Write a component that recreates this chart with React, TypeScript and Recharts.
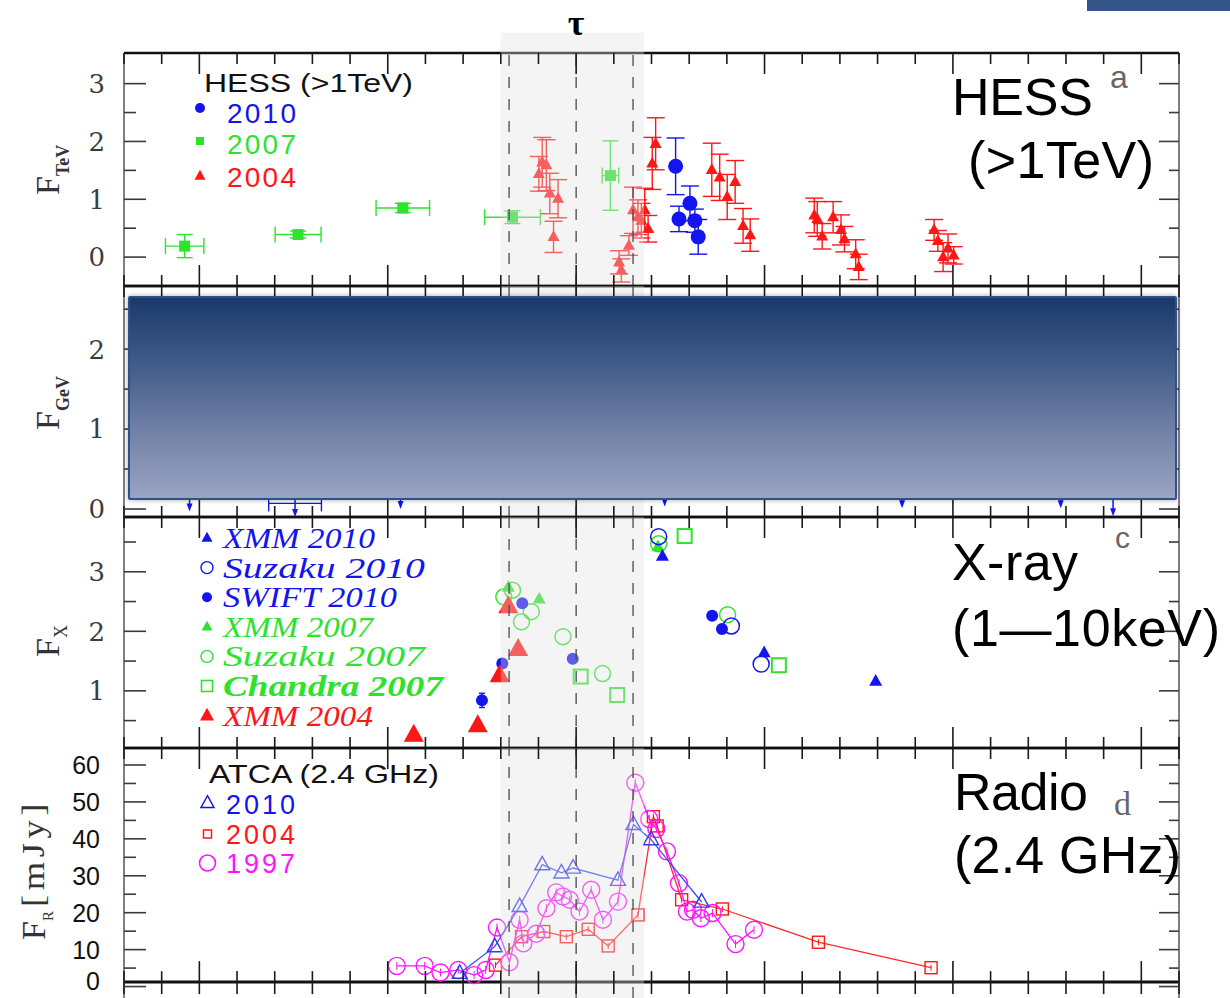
import React from 'react';
import {
  ScatterChart,
  Scatter,
  XAxis,
  YAxis,
  ReferenceLine,
  ReferenceArea,
  ErrorBar,
  Legend,
} from 'recharts';

const W = 1230;
const ML = 124;
const MR = 51;
const PLOT_R = W - MR;

const SANS = "'Liberation Sans', Arial, sans-serif";
const SERIF = "'Liberation Serif', 'Times New Roman', serif";
const DJS = "'DejaVu Serif', serif";

const BLUE = '#1414ee';
const GREEN = '#2ee22e';
const RED = '#ff1616';
const MAGENTA = '#ff14ff';

// shared time axis (no labels in the original)
const xTicks = [0, 1, 2, 3, 4, 5, 6, 7, 8, 9, 10, 11, 12, 13, 14, 15, 16, 17, 18, 19, 20, 21, 22, 23, 24, 25, 26, 27, 28];
const tevTicks = [0, 0.5, 1, 1.5, 2, 2.5, 3];
const gevTicks = [0, 0.5, 1, 1.5, 2, 2.5];
const xrayTicks = [0.5, 1, 1.5, 2, 2.5, 3, 3.5];
const radioTicks = [0, 5, 10, 15, 20, 25, 30, 35, 40, 45, 50, 55, 60];

// shaded window around periastron, and its dashed markers
const windowStart = 10.0;
const windowEnd = 13.8;
const windowLines = [10.22, 12.0, 13.51];

// a: HESS (>1 TeV)
const hess2007 = [
  { x: 1.61, y: 0.19, ex: 0.51, ey: 0.2 },
  { x: 4.62, y: 0.39, ex: 0.61, ey: 0.06 },
  { x: 7.4, y: 0.85, ex: 0.71, ey: 0.08 },
  { x: 10.31, y: 0.69, ex: 0.74, ey: 0.11 },
  { x: 12.91, y: 1.41, ex: 0.22, ey: 0.6 },
];
const hess2004 = [
  { x: 11.01, y: 1.44, ey: 0.3 },
  { x: 11.1, y: 1.64, ey: 0.43 },
  { x: 11.21, y: 1.59, ey: 0.44 },
  { x: 11.3, y: 1.1, ey: 0.35 },
  { x: 11.4, y: 0.35, ey: 0.27 },
  { x: 11.52, y: 1.01, ey: 0.33 },
  { x: 13.14, y: -0.09, ey: 0.2 },
  { x: 13.2, y: -0.23, ey: 0.2 },
  { x: 13.4, y: 0.2, ey: 0.17 },
  { x: 13.51, y: 0.81, ey: 0.4 },
  { x: 13.64, y: 0.69, ey: 0.3 },
  { x: 13.73, y: 0.63, ey: 0.3 },
  { x: 13.82, y: 0.81, ey: 0.38 },
  { x: 13.91, y: 0.49, ey: 0.23 },
  { x: 14.02, y: 1.62, ey: 0.45 },
  { x: 14.11, y: 1.96, ey: 0.45 },
  { x: 15.6, y: 1.51, ey: 0.46 },
  { x: 15.81, y: 1.38, ey: 0.4 },
  { x: 16.01, y: 1.04, ey: 0.39 },
  { x: 16.22, y: 1.3, ey: 0.37 },
  { x: 16.43, y: 0.54, ey: 0.3 },
  { x: 16.62, y: 0.38, ey: 0.28 },
  { x: 18.32, y: 0.72, ey: 0.3 },
  { x: 18.4, y: 0.66, ey: 0.3 },
  { x: 18.53, y: 0.36, ey: 0.22 },
  { x: 18.82, y: 0.69, ey: 0.27 },
  { x: 19.03, y: 0.47, ey: 0.26 },
  { x: 19.12, y: 0.31, ey: 0.22 },
  { x: 19.42, y: 0.05, ey: 0.25 },
  { x: 19.5, y: -0.17, ey: 0.22 },
  { x: 21.5, y: 0.47, ey: 0.18 },
  { x: 21.6, y: 0.28, ey: 0.18 },
  { x: 21.74, y: 0.0, ey: 0.25 },
  { x: 21.87, y: 0.15, ey: 0.25 },
  { x: 22.02, y: 0.03, ey: 0.15 },
];
const hess2010 = [
  { x: 14.64, y: 1.57, ey: 0.49 },
  { x: 14.73, y: 0.66, ey: 0.22 },
  { x: 15.02, y: 0.93, ey: 0.3 },
  { x: 15.15, y: 0.63, ey: 0.2 },
  { x: 15.24, y: 0.35, ey: 0.3 },
];

// b: Fermi GeV upper limits (mostly hidden)
const gevLimits = [
  { x: 1.74, y: -0.03 },
  { x: 4.54, y: -0.1 },
  { x: 7.34, y: 0.0 },
  { x: 14.35, y: 0.03 },
  { x: 20.65, y: 0.01 },
  { x: 24.86, y: 0.01 },
  { x: 26.25, y: -0.09 },
];
const gevBar = [{ x: 4.54, y: 0.07, ex: 0.7 }];

// c: X-ray (1-10 keV)
const xmm2010 = [
  { x: 14.29, y: 3.26 },
  { x: 16.99, y: 1.64 },
  { x: 19.95, y: 1.16 },
];
const suzaku2010 = [
  { x: 14.19, y: 3.59 },
  { x: 16.12, y: 2.09 },
  { x: 16.91, y: 1.45 },
];
const swift2010 = [
  { x: 9.5, y: 0.84, ey: 0.12 },
  { x: 10.04, y: 1.46, ey: 0 },
  { x: 10.57, y: 2.47, ey: 0 },
  { x: 11.91, y: 1.54, ey: 0 },
  { x: 15.61, y: 2.26, ey: 0 },
  { x: 15.87, y: 2.04, ey: 0 },
];
const xmm2007 = [
  { x: 10.2, y: 2.74 },
  { x: 11.02, y: 2.54 },
  { x: 14.17, y: 3.42 },
];
const suzaku2007 = [
  { x: 10.08, y: 2.58 },
  { x: 10.31, y: 2.69 },
  { x: 10.55, y: 2.16 },
  { x: 10.81, y: 2.33 },
  { x: 11.65, y: 1.91 },
  { x: 12.7, y: 1.29 },
  { x: 14.19, y: 3.47 },
  { x: 16.02, y: 2.28 },
];
const chandra2007 = [
  { x: 12.12, y: 1.24 },
  { x: 13.09, y: 0.93 },
  { x: 14.88, y: 3.6 },
  { x: 17.38, y: 1.43 },
];
const xmm2004 = [
  { x: 7.69, y: 0.26 },
  { x: 9.39, y: 0.42 },
  { x: 9.97, y: 1.26 },
  { x: 10.2, y: 2.42 },
  { x: 10.46, y: 1.7 },
];

// d: ATCA radio 2.4 GHz, mJy
const atca2010 = [
  { x: 8.91, y: 3.6 },
  { x: 9.84, y: 10.8 },
  { x: 10.5, y: 21.7 },
  { x: 11.1, y: 33.0 },
  { x: 11.61, y: 30.8 },
  { x: 11.92, y: 32.1 },
  { x: 13.11, y: 28.8 },
  { x: 13.52, y: 43.9 },
  { x: 13.99, y: 39.8 },
  { x: 15.33, y: 22.9 },
];
const atca2004 = [
  { x: 9.86, y: 5.8 },
  { x: 10.55, y: 13.5 },
  { x: 11.14, y: 14.9 },
  { x: 11.74, y: 13.5 },
  { x: 12.32, y: 15.5 },
  { x: 12.85, y: 11.0 },
  { x: 13.64, y: 19.4 },
  { x: 14.05, y: 46.0 },
  { x: 14.15, y: 43.5 },
  { x: 14.8, y: 23.5 },
  { x: 15.88, y: 21.0 },
  { x: 18.43, y: 12.0 },
  { x: 21.42, y: 5.1 },
];
const atca1997 = [
  { x: 7.24, y: 5.6 },
  { x: 7.98, y: 5.6 },
  { x: 8.4, y: 3.8 },
  { x: 8.87, y: 4.5 },
  { x: 9.29, y: 3.1 },
  { x: 9.6, y: 4.5 },
  { x: 9.9, y: 16.0 },
  { x: 10.23, y: 6.6 },
  { x: 10.5, y: 18.1 },
  { x: 10.6, y: 11.7 },
  { x: 10.94, y: 14.3 },
  { x: 11.21, y: 21.2 },
  { x: 11.47, y: 25.5 },
  { x: 11.65, y: 24.4 },
  { x: 11.83, y: 23.5 },
  { x: 12.09, y: 20.3 },
  { x: 12.4, y: 26.2 },
  { x: 12.71, y: 18.1 },
  { x: 13.11, y: 23.0 },
  { x: 13.57, y: 55.2 },
  { x: 13.94, y: 45.4 },
  { x: 14.13, y: 42.7 },
  { x: 14.41, y: 36.6 },
  { x: 14.73, y: 28.0 },
  { x: 14.94, y: 20.3 },
  { x: 15.1, y: 20.8 },
  { x: 15.31, y: 18.5 },
  { x: 15.62, y: 19.9 },
  { x: 16.23, y: 11.5 },
  { x: 16.72, y: 15.4 },
];

// ---- marker shapes ----
const dot = (r: number, color: string) => (s: any) => (
  <circle cx={s.cx} cy={s.cy} r={r} fill={color} />
);
const ring = (r: number, color: string, w = 1.5, tick = false) => (s: any) => (
  <g>
    <circle cx={s.cx} cy={s.cy} r={r} fill="none" stroke={color} strokeWidth={w} />
    {tick && <line x1={s.cx} x2={s.cx} y1={s.cy - 4} y2={s.cy + 4} stroke={color} strokeWidth={1} />}
  </g>
);
const box = (a: number, color: string, filled: boolean, w = 1.5, tick = false) => (s: any) => (
  <g>
    <rect
      x={s.cx - a / 2}
      y={s.cy - a / 2}
      width={a}
      height={a}
      fill={filled ? color : 'none'}
      stroke={filled ? 'none' : color}
      strokeWidth={w}
    />
    {tick && <line x1={s.cx} x2={s.cx} y1={s.cy - 3} y2={s.cy + 3} stroke={color} strokeWidth={1} />}
  </g>
);
const tri = (a: number, color: string, filled: boolean, w = 1.5) => (s: any) => {
  const h = a * 0.9;
  return (
    <polygon
      points={`${s.cx},${s.cy - h * 0.62} ${s.cx - a / 2},${s.cy + h * 0.38} ${s.cx + a / 2},${s.cy + h * 0.38}`}
      fill={filled ? color : 'none'}
      stroke={filled ? 'none' : color}
      strokeWidth={w}
    />
  );
};
const limitArrow = (color: string) => (s: any) => (
  <g stroke={color} fill={color} strokeWidth={1.5}>
    <line x1={s.cx} x2={s.cx} y1={s.cy - 45} y2={s.cy - 6} />
    <polygon points={`${s.cx - 3},${s.cy - 8} ${s.cx + 3},${s.cy - 8} ${s.cx},${s.cy}`} stroke="none" />
  </g>
);
const nothing = () => <g />;

// ---- axis ticks (inward, all four sides) ----
const xTick = (top: number, bottom: number, below: number) => (p: any) => {
  const long = p.payload.value % 5 === 2;
  const len = long ? 21 : 11;
  return (
    <g stroke="#1a1a1a" strokeWidth={1.6}>
      <line x1={p.x} x2={p.x} y1={top} y2={top + len} />
      <line x1={p.x} x2={p.x} y1={bottom + below} y2={bottom - len} />
    </g>
  );
};
const yTick = (isMajor: (v: number) => boolean, font: any, labelX: number, lowDy = '0.36em') => (p: any) => {
  const v = p.payload.value;
  const major = isMajor(v);
  return (
    <g>
      <line x1={ML} x2={ML + (major ? 22 : 12)} y1={p.y} y2={p.y} stroke="#3a3a3a" strokeWidth={1.6} />
      <line x1={PLOT_R} x2={PLOT_R - (major ? 20 : 10)} y1={p.y} y2={p.y} stroke="#3a3a3a" strokeWidth={1.6} />
      {major && (
        <text x={labelX} y={p.y} dy={v === 0 ? lowDy : '0.36em'} textAnchor="end" {...font}>
          {v}
        </text>
      )}
    </g>
  );
};

const serifTickFont = { fontFamily: DJS, fontSize: 26, fill: '#3c3c3c' };
const sansTickFont = { fontFamily: SANS, fontSize: 25, fill: '#111' };

// axes get 1px of room (an axis with zero size is not drawn); margins compensate
function Panel(p: any) {
  const plotBottom = p.height - p.mb;
  const base = p.tickBase ?? plotBottom;
  return (
    <div style={{ position: 'absolute', left: 0, top: p.top }}>
      <ScatterChart width={W} height={p.height} margin={{ top: p.mt, right: MR, bottom: p.mb - 1, left: ML - 1 }}>
        <XAxis
          type="number"
          dataKey="x"
          domain={[0, 28]}
          ticks={xTicks}
          interval={0}
          height={1}
          allowDataOverflow
          tickLine={false}
          axisLine={p.hideAxisLine ? false : { stroke: '#111', strokeWidth: 2.6 }}
          tick={xTick(p.mt, base, p.tickBelow ?? 0)}
        />
        <YAxis
          type="number"
          dataKey="y"
          domain={p.domain}
          ticks={p.yTicks}
          interval={0}
          width={1}
          allowDataOverflow
          tickLine={false}
          axisLine={{ stroke: '#555', strokeWidth: 1.5 }}
          tick={yTick(p.isMajor, p.tickFont, p.labelX, p.lowDy)}
        />
        {p.children}
        <ReferenceArea
          x1={windowStart}
          x2={windowEnd}
          y1={p.areaTop !== undefined ? p.domain[0] : undefined}
          y2={p.areaTop}
          ifOverflow={p.areaTop !== undefined ? 'visible' : 'discard'}
          fill="#e0e0e0"
          fillOpacity={0.36}
          stroke="none"
          zIndex={650}
        />
        {windowLines.map((x) => (
          <ReferenceLine
            key={x}
            x={x}
            stroke="#4a4a4a"
            strokeWidth={1.3}
            strokeDasharray="11 11"
            zIndex={700}
            label={
              p.tau && x === 12
                ? { value: 'τ', position: 'top', offset: 18, fill: '#000', fontSize: 36, fontWeight: 700, fontFamily: SERIF }
                : undefined
            }
          />
        ))}
        <ReferenceLine x={28} stroke="#555" strokeWidth={1.5} />
        <ReferenceLine y={p.domain[1]} stroke="#111" strokeWidth={2.6} />
        <Legend
          layout="horizontal"
          verticalAlign="middle"
          align="center"
          wrapperStyle={{ left: 0, top: 0, width: W, height: p.height, pointerEvents: 'none' }}
          content={() => (
            <svg width={W} height={p.height} style={{ overflow: 'visible', display: 'block' }}>
              {p.annotations}
            </svg>
          )}
        />
      </ScatterChart>
    </div>
  );
}

const bigLabel = { fontFamily: SANS, fontSize: 52, fill: '#000' };

function PanelA() {
  const ann = (
    <g>
      <text transform="rotate(-90 59 195)" x={59} y={195} fontFamily={SERIF} fontSize={34} fill="#333">
        F<tspan dy={10} fontSize={18} fontWeight={700}>TeV</tspan>
      </text>
      <text x={204} y={92} fontFamily={SANS} fontSize={26} textLength={209} lengthAdjust="spacingAndGlyphs" fill="#111">
        HESS (&gt;1TeV)
      </text>
      {dot(5, BLUE)({ cx: 200, cy: 108 })}
      {box(8, GREEN, true)({ cx: 200, cy: 141 })}
      {tri(11, RED, true)({ cx: 200, cy: 176 })}
      <text x={227} y={123} fontFamily={SANS} fontSize={28} textLength={69} fill={BLUE}>2010</text>
      <text x={227} y={154} fontFamily={SANS} fontSize={28} textLength={69} fill={GREEN}>2007</text>
      <text x={227} y={187} fontFamily={SANS} fontSize={28} textLength={69} fill={RED}>2004</text>
      <text x={952} y={115} {...bigLabel} textLength={141}>HESS</text>
      <text x={1110} y={88} fontFamily={SANS} fontSize={32} fill="#666">a</text>
      <text x={968} y={178} {...bigLabel} textLength={186}>(&gt;1TeV)</text>
    </g>
  );
  return (
    <Panel
      top={0}
      height={300}
      mt={53}
      mb={14}
      domain={[-0.5, 3.53]}
      yTicks={tevTicks}
      isMajor={(v: number) => Number.isInteger(v)}
      tickFont={serifTickFont}
      labelX={105}
      areaTop={3.88}
      tau
      annotations={ann}
    >
      <Scatter name="2007" data={hess2007} shape={box(11, GREEN, true)} isAnimationActive={false}>
        <ErrorBar dataKey="ex" direction="x" width={8} stroke={GREEN} strokeWidth={1.4} />
        <ErrorBar dataKey="ey" direction="y" width={8} stroke={GREEN} strokeWidth={1.4} />
      </Scatter>
      <Scatter name="2004" data={hess2004} shape={tri(12, RED, true)} isAnimationActive={false}>
        <ErrorBar dataKey="ey" direction="y" width={9} stroke={RED} strokeWidth={1.4} />
      </Scatter>
      <Scatter name="2010" data={hess2010} shape={dot(7.5, BLUE)} isAnimationActive={false}>
        <ErrorBar dataKey="ey" direction="y" width={9} stroke={BLUE} strokeWidth={1.4} />
      </Scatter>
    </Panel>
  );
}

function PanelB() {
  const ann = (
    <g>
      <text transform="rotate(-90 59 154)" x={59} y={154} fontFamily={SERIF} fontSize={34} fill="#333">
        F<tspan dy={10} fontSize={18} fontWeight={700}>GeV</tspan>
      </text>
    </g>
  );
  return (
    <Panel
      top={276}
      height={251}
      mt={10}
      mb={10}
      domain={[-0.1, 2.79]}
      yTicks={gevTicks}
      isMajor={(v: number) => Number.isInteger(v)}
      tickFont={serifTickFont}
      labelX={105}
      annotations={ann}
    >
      <Scatter name="Fermi limits" data={gevLimits} shape={limitArrow(BLUE)} isAnimationActive={false} />
      <Scatter name="Fermi bin" data={gevBar} shape={nothing} isAnimationActive={false}>
        <ErrorBar dataKey="ex" direction="x" width={8} stroke={BLUE} strokeWidth={1.4} />
      </Scatter>
    </Panel>
  );
}

const xrayLegend = [
  { name: 'XMM 2010', color: BLUE, shape: tri(11, BLUE, true) },
  { name: 'Suzaku 2010', color: BLUE, shape: ring(6, BLUE, 1.4) },
  { name: 'SWIFT 2010', color: BLUE, shape: dot(5, BLUE) },
  { name: 'XMM 2007', color: GREEN, shape: tri(11, GREEN, true) },
  { name: 'Suzaku 2007', color: GREEN, shape: ring(6, GREEN, 1.4) },
  { name: 'Chandra 2007', color: GREEN, shape: box(11, GREEN, false, 1.6) },
  { name: 'XMM 2004', color: RED, shape: tri(14, RED, true) },
];
const xrayLegendWidths = [152, 202, 174, 150, 202, 220, 150];

function PanelC() {
  const ann = (
    <g>
      <text transform="rotate(-90 59 150)" x={59} y={150} fontFamily={SERIF} fontSize={34} fill="#333">
        F<tspan dy={8} fontSize={18}>X</tspan>
      </text>
      {xrayLegend.map((l, i) => (
        <g key={l.name}>
          {l.shape({ cx: 207, cy: 31 + i * 29.6 })}
          <text
            x={223}
            y={41 + i * 29.6}
            fontFamily={SERIF}
            fontStyle="italic"
            fontWeight={l.name.startsWith('Chandra') ? 700 : 400}
            fontSize={29}
            textLength={xrayLegendWidths[i]}
            lengthAdjust="spacingAndGlyphs"
            fill={l.color}
          >
            {l.name}
          </text>
        </g>
      ))}
      <text x={952} y={73} {...bigLabel} textLength={126}>X-ray</text>
      <text x={1115} y={41} fontFamily={SANS} fontSize={30} fill="#666">c</text>
      <text x={952} y={139} {...bigLabel} textLength={268}>(1—10keV)</text>
    </g>
  );
  return (
    <Panel
      top={507}
      height={251}
      mt={10}
      mb={10}
      domain={[0.04, 3.92]}
      yTicks={xrayTicks}
      isMajor={(v: number) => Number.isInteger(v)}
      tickFont={serifTickFont}
      labelX={105}
      annotations={ann}
    >
      <Scatter name="Chandra 2007" data={chandra2007} shape={box(14, GREEN, false, 2)} isAnimationActive={false} />
      <Scatter name="Suzaku 2007" data={suzaku2007} shape={ring(8, GREEN, 1.5)} isAnimationActive={false} />
      <Scatter name="XMM 2007" data={xmm2007} shape={tri(13, GREEN, true)} isAnimationActive={false} />
      <Scatter name="Suzaku 2010" data={suzaku2010} shape={ring(8, BLUE, 1.5)} isAnimationActive={false} />
      <Scatter name="SWIFT 2010" data={swift2010} shape={dot(6, BLUE)} isAnimationActive={false}>
        <ErrorBar dataKey="ey" direction="y" width={3} stroke={BLUE} strokeWidth={1.4} />
      </Scatter>
      <Scatter name="XMM 2010" data={xmm2010} shape={tri(13, BLUE, true)} isAnimationActive={false} />
      <Scatter name="XMM 2004" data={xmm2004} shape={tri(20, RED, true)} isAnimationActive={false} />
    </Panel>
  );
}

function PanelD() {
  const domain = [-3.1, 64.6];
  const height = 261;
  const mt = 10;
  const mb = 1;
  const lineValue = 1.2;
  const lineY = mt + ((domain[1] - lineValue) / (domain[1] - domain[0])) * (height - mt - mb);
  const ann = (
    <g>
      <text transform="rotate(-90 45 202)" x={45} y={202} fontFamily={SERIF} fontSize={34} fill="#333">
        F<tspan dy={8} fontSize={15}>R</tspan>
      </text>
      <text
        transform="rotate(-90 44 169)"
        x={44}
        y={169}
        fontFamily={SERIF}
        fontSize={32}
        letterSpacing={4}
        textLength={108}
        lengthAdjust="spacingAndGlyphs"
        fill="#333"
      >
        [mJy]
      </text>
      <text x={209} y={45} fontFamily={SANS} fontSize={26} textLength={230} lengthAdjust="spacingAndGlyphs" fill="#111">
        ATCA (2.4 GHz)
      </text>
      {tri(13, BLUE, false, 1.5)({ cx: 207.5, cy: 65 })}
      {box(8, RED, false, 1.5)({ cx: 207.5, cy: 96 })}
      {ring(8, MAGENTA, 1.6)({ cx: 207.5, cy: 125 })}
      <text x={226} y={76} fontFamily={SANS} fontSize={27} textLength={69} fill={BLUE}>2010</text>
      <text x={226} y={106} fontFamily={SANS} fontSize={27} textLength={69} fill={RED}>2004</text>
      <text x={226} y={135} fontFamily={SANS} fontSize={27} textLength={69} fill={MAGENTA}>1997</text>
      <text x={954} y={72} {...bigLabel} textLength={134}>Radio</text>
      <text x={1114} y={77} fontFamily={SERIF} fontSize={34} fill="#666">d</text>
      <text x={954} y={135} {...bigLabel} textLength={227}>(2.4 GHz)</text>
    </g>
  );
  return (
    <Panel
      top={738}
      height={height}
      mt={mt}
      mb={mb}
      domain={domain}
      yTicks={radioTicks}
      isMajor={(v: number) => v % 10 === 0}
      tickFont={sansTickFont}
      labelX={100}
      lowDy="0.12em"
      tickBase={lineY}
      tickBelow={12}
      hideAxisLine
      annotations={ann}
    >
      <ReferenceLine y={lineValue} stroke="#111" strokeWidth={3} />
      <Scatter
        name="2004"
        data={atca2004}
        shape={box(12, RED, false, 1.4, true)}
        line={{ stroke: '#ff2a2a', strokeWidth: 1.3 }}
        isAnimationActive={false}
      />
      <Scatter
        name="1997"
        data={atca1997}
        shape={ring(8.5, MAGENTA, 1.4, true)}
        line={{ stroke: MAGENTA, strokeWidth: 1.3 }}
        isAnimationActive={false}
      />
      <Scatter
        name="2010"
        data={atca2010}
        shape={tri(15, '#2c3cf0', false, 1.4)}
        line={{ stroke: '#3c4cf0', strokeWidth: 1.3 }}
        isAnimationActive={false}
      />
    </Panel>
  );
}

export default function App() {
  return (
    <div style={{ position: 'absolute', left: 0, top: 0, width: W, height: 998, overflow: 'hidden', background: '#fff' }}>
      <PanelA />
      <PanelB />
      <PanelC />
      <PanelD />
      {/* slide overlay hiding the GeV panel */}
      <div
        style={{
          position: 'absolute',
          left: 128,
          top: 296,
          width: 1049,
          height: 204,
          boxSizing: 'border-box',
          border: '2px solid #2f5189',
          borderRadius: 2,
          background: 'linear-gradient(to bottom, #1a396b 0%, #3d5985 30%, #6f7fa5 65%, #9aa4c2 100%)',
          boxShadow: '0 0 5px rgba(0,0,0,0.35)',
        }}
      />
      <div style={{ position: 'absolute', left: 1087, top: 0, width: 143, height: 11, background: '#34558a' }} />
    </div>
  );
}
